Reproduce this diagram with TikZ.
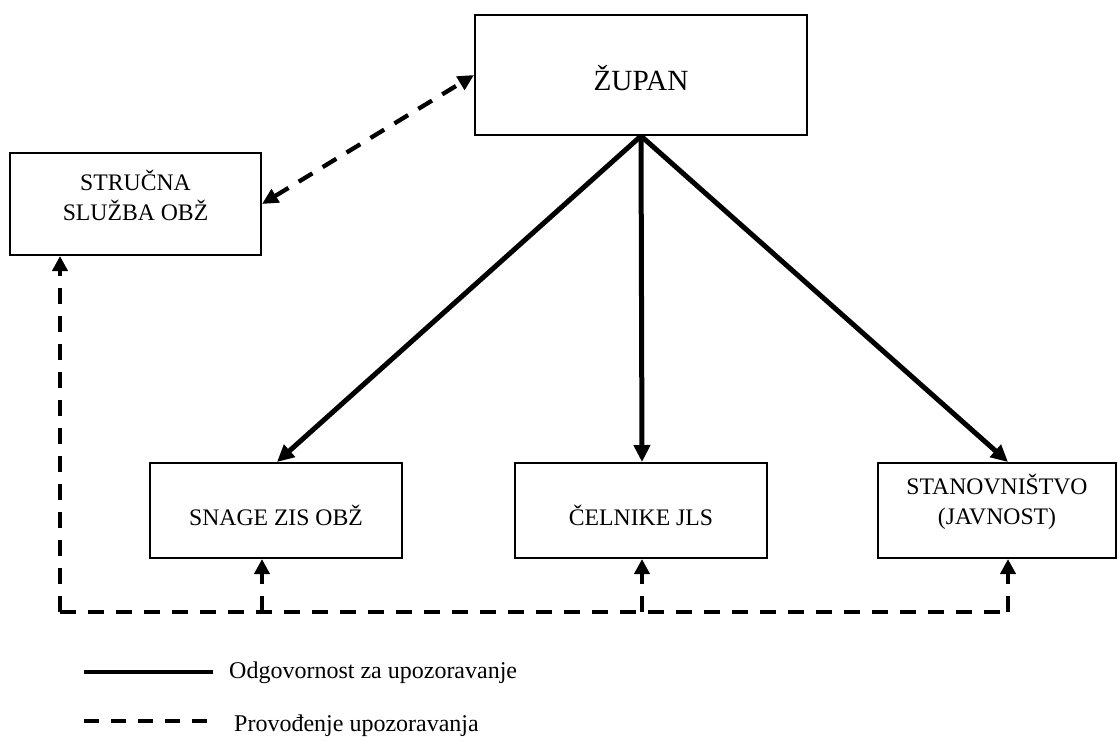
\documentclass[tikz,border=0pt]{standalone}
\usepackage{fontspec}
\setmainfont{Liberation Serif}
\usetikzlibrary{arrows.meta}
\begin{document}
\begin{tikzpicture}[x=1pt,y=-1pt,
 box/.style={draw, line width=2pt, rectangle, inner sep=0pt},
 txt/.style={align=center, font=\fontsize{23.7}{30}\selectfont, inner sep=0pt},
 solidarrow/.style={line width=5pt, -{Triangle[length=17pt,width=16pt]}},
 dsh/.style={line width=4.3pt, dash pattern=on 16pt off 12pt},
 dtip/.style={-{Triangle[length=15pt,width=15pt]}},
 dtips/.style={{Triangle[length=16pt,width=15pt]}-{Triangle[length=16pt,width=15pt]}},
 legtxt/.style={anchor=west, inner sep=0pt, font=\fontsize{24}{28}\selectfont},
]
\useasboundingbox (0,0) rectangle (1118,740);

% boxes
\node[box, minimum width=332pt, minimum height=120pt] (zupan) at (641,75) {};
\node[txt, font=\fontsize{29.3}{34}\selectfont] (zupant) at ([yshift=-3pt]zupan.center) {ŽUPAN};

\node[box, minimum width=251pt, minimum height=102pt] (strucna) at (135.5,204) {};
\node[txt] (strucnat) at ([yshift=9pt]strucna.center) {STRUČNA\\SLUŽBA OBŽ};

\node[box, minimum width=252pt, minimum height=95pt] (snage) at (276,510.5) {};
\node[txt] (snaget) at ([yshift=-5pt]snage.center) {SNAGE ZIS OBŽ};

\node[box, minimum width=252pt, minimum height=95pt] (celnike) at (641,510.5) {};
\node[txt] (celniket) at ([yshift=-5pt]celnike.center) {ČELNIKE JLS};

\node[box, minimum width=238pt, minimum height=95pt] (stan) at (997,510.5) {};
\node[txt] (stant) at ([yshift=9pt]stan.center) {STANOVNIŠTVO\\(JAVNOST)};

% solid arrows
\draw[solidarrow] (zupan.south) -- ([xshift=1pt]snage.north);
\draw[solidarrow] (zupan.south) -- ([xshift=1pt]celnike.north);
\draw[solidarrow] (zupan.south) -- ([xshift=11pt]stan.north);

% dashed double arrow
\draw[dsh, dtips] (strucna.east) -- (zupan.west);

% dashed bus
\coordinate (bl) at (60,612);
\coordinate (br) at (1008,612);
\draw[dsh] (bl) -- (br);
\draw[dsh, dtip] (bl) -- (bl |- strucna.south);
\draw[dsh, dtip] ([xshift=-14pt]snage.south |- bl) -- ([xshift=-14pt]snage.south);
\draw[dsh, dtip] ([xshift=1pt]celnike.south |- bl) -- ([xshift=1pt]celnike.south);
\draw[dsh, dtip] (br) -- ([xshift=11pt]stan.south);

% legend
\coordinate (l1a) at (84,672);
\coordinate (l1b) at (213,672);
\coordinate (l2a) at (84,721);
\coordinate (l2b) at (213,721);
\draw[line width=4.5pt] (l1a) -- (l1b);
\draw[dsh, dash pattern=on 15pt off 12pt] (l2a) -- (l2b);
\node[legtxt] (leg1) at (229,673) {Odgovornost za upozoravanje};
\node[legtxt] (leg2) at (234,726) {Provođenje upozoravanja};
\end{tikzpicture}
\end{document}
